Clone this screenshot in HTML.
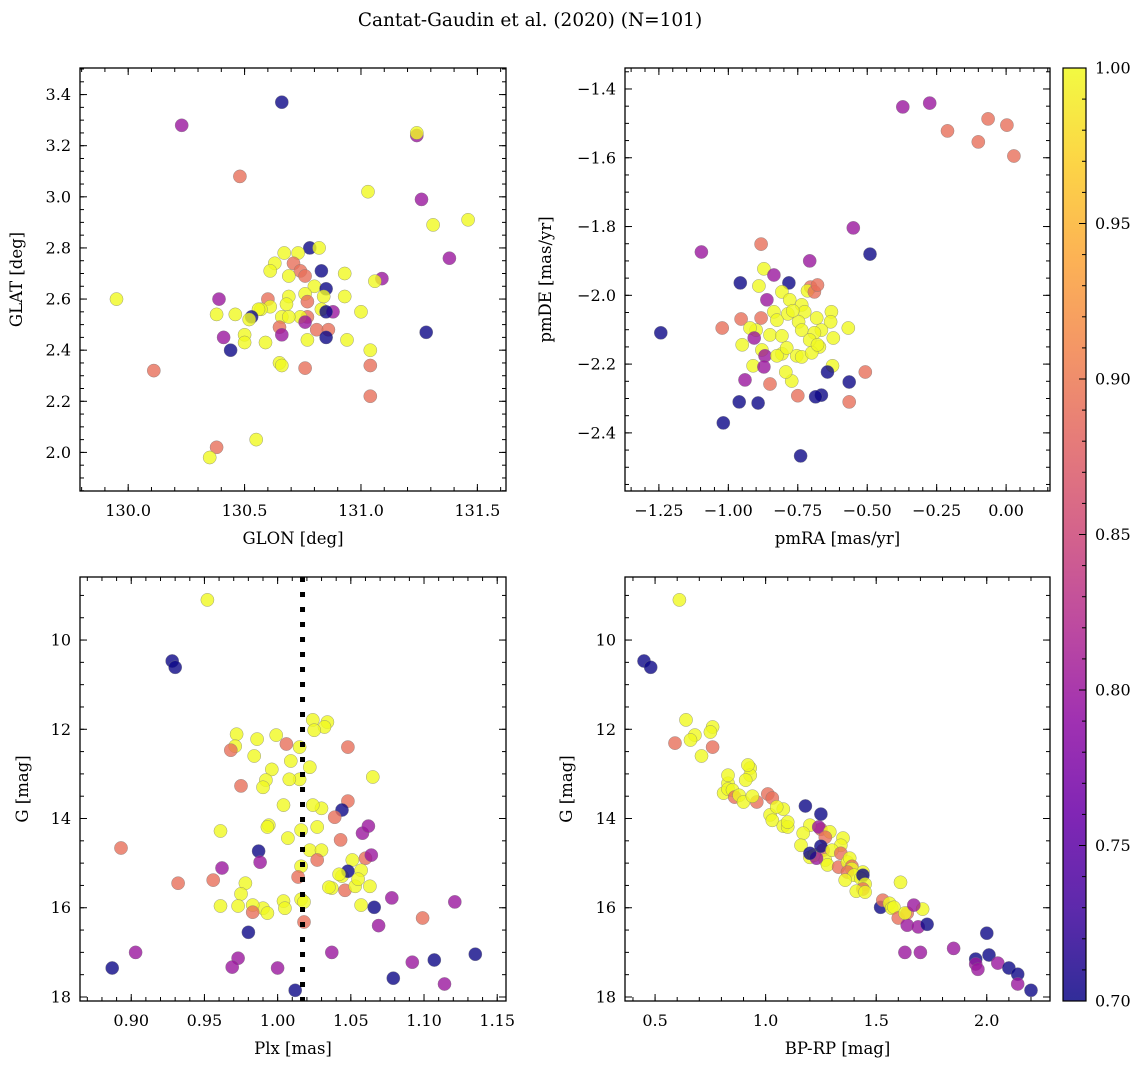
<!DOCTYPE html>
<html><head><meta charset="utf-8"><style>
body{margin:0;background:#fff;}
svg{display:block;font-family:"DejaVu Serif","Liberation Serif",serif;}
</style></head><body>
<svg id="fig" width="1148" height="1068" viewBox="0 0 1148 1068" xmlns="http://www.w3.org/2000/svg">
<defs>
<linearGradient id="cbgrad" x1="0" y1="1" x2="0" y2="0">
<stop offset="0" stop-color="#0d0887"/><stop offset="0.1" stop-color="#41049d"/><stop offset="0.2" stop-color="#6a00a8"/><stop offset="0.3" stop-color="#8f0da4"/><stop offset="0.4" stop-color="#b12a90"/><stop offset="0.5" stop-color="#cc4778"/><stop offset="0.6" stop-color="#e16462"/><stop offset="0.7" stop-color="#f2844b"/><stop offset="0.8" stop-color="#fca636"/><stop offset="0.9" stop-color="#fcce25"/><stop offset="1" stop-color="#f0f921"/>
</linearGradient>
</defs>
<text x="530" y="26" font-size="18.5" text-anchor="middle">Cantat-Gaudin et al. (2020) (N=101)</text>
</svg>
<script>
// ---- Panel 1: GLON / GLAT ----
const glon = [130.66,130.23,131.24,131.24,130.48,131.03,131.26,131.31,131.46,130.78,130.82,130.67,130.73,130.83,130.93,131.09,130.63,130.71,130.61,130.74,131.38,131.06,129.95,130.39,130.60,130.61,130.69,130.76,130.80,130.85,130.84,130.93,130.69,130.76,130.68,130.57,130.46,130.38,130.56,130.53,130.52,130.77,130.83,130.88,130.85,131.00,130.77,130.66,130.74,130.69,130.76,130.41,130.50,130.65,130.66,130.81,130.86,130.85,130.59,130.50,130.44,130.94,130.77,131.28,130.65,130.66,130.76,131.04,130.11,131.04,131.04,130.38,130.55,130.35];
const glat = [3.37,3.28,3.24,3.25,3.08,3.02,2.99,2.89,2.91,2.80,2.80,2.78,2.78,2.71,2.70,2.68,2.74,2.74,2.71,2.71,2.76,2.67,2.60,2.60,2.60,2.57,2.69,2.69,2.65,2.64,2.61,2.61,2.61,2.62,2.58,2.56,2.54,2.54,2.56,2.53,2.52,2.59,2.56,2.55,2.55,2.55,2.53,2.53,2.53,2.53,2.51,2.45,2.46,2.49,2.46,2.48,2.48,2.45,2.43,2.43,2.40,2.44,2.44,2.47,2.35,2.34,2.33,2.40,2.32,2.34,2.22,2.02,2.05,1.98];
const prob1 = [0.70,0.80,0.80,1.0,0.89,1.0,0.80,1.0,1.0,0.70,1.0,1.0,1.0,0.70,1.0,0.80,1.0,0.89,1.0,0.89,0.80,1.0,1.0,0.80,0.89,1.0,1.0,0.89,1.0,0.70,1.0,1.0,1.0,1.0,1.0,1.0,1.0,1.0,1.0,0.70,1.0,0.89,1.0,0.80,0.70,1.0,0.89,1.0,1.0,1.0,0.80,0.80,1.0,0.89,0.80,0.89,0.89,0.70,1.0,1.0,0.70,1.0,1.0,0.70,1.0,1.0,0.89,1.0,0.89,0.89,0.89,0.89,1.0,1.0];
// ---- Panel 2: pmRA / pmDE ----
const pmra = [-0.372,-0.275,-0.211,-0.065,0.003,-0.100,0.028,-0.550,-0.490,-1.097,-0.707,-0.957,-0.872,-0.882,-0.782,-0.704,-0.836,-0.715,-0.690,-0.679,-0.890,-0.807,-0.779,-0.736,-0.629,-0.725,-0.682,-0.632,-0.568,-0.786,-0.836,-0.882,-0.861,-0.747,-0.665,-0.954,-0.768,-0.825,-0.850,-0.900,-0.807,-0.736,-0.690,-0.672,-0.707,-0.622,-1.022,-0.922,-0.950,-0.879,-0.807,-0.754,-0.907,-0.868,-0.825,-0.790,-0.736,-0.700,-0.679,-0.625,-0.643,-0.911,-0.940,-0.872,-0.850,-0.772,-0.793,-0.665,-0.565,-0.507,-0.961,-0.893,-0.750,-0.686,-0.565,-1.018,-0.740,-1.243];
const pmde = [-1.452,-1.441,-1.522,-1.487,-1.505,-1.554,-1.595,-1.804,-1.880,-1.874,-1.900,-1.964,-1.923,-1.851,-1.964,-1.976,-1.941,-1.987,-1.990,-1.970,-1.973,-1.990,-2.013,-2.028,-2.048,-2.048,-2.066,-2.077,-2.095,-2.054,-2.048,-2.066,-2.013,-2.077,-2.101,-2.069,-2.045,-2.072,-2.115,-2.101,-2.118,-2.101,-2.109,-2.150,-2.130,-2.124,-2.095,-2.095,-2.144,-2.159,-2.170,-2.176,-2.124,-2.176,-2.176,-2.153,-2.179,-2.167,-2.144,-2.205,-2.223,-2.205,-2.246,-2.208,-2.258,-2.249,-2.223,-2.290,-2.252,-2.223,-2.310,-2.313,-2.292,-2.295,-2.310,-2.371,-2.467,-2.109];
const prob2 = [0.80,0.80,0.89,0.89,0.89,0.89,0.89,0.80,0.70,0.80,0.80,0.70,1.0,0.89,0.70,0.89,0.80,1.0,0.89,0.89,1.0,1.0,1.0,1.0,1.0,1.0,1.0,1.0,1.0,1.0,1.0,0.89,0.80,1.0,1.0,0.89,1.0,1.0,1.0,1.0,1.0,1.0,1.0,1.0,1.0,1.0,0.89,1.0,1.0,1.0,1.0,1.0,0.80,0.80,1.0,1.0,1.0,1.0,1.0,1.0,0.70,1.0,0.80,0.80,0.89,1.0,1.0,0.70,0.70,0.89,0.70,0.70,0.89,0.70,0.89,0.70,0.70,0.70];
// ---- Panel 3: Plx / G ----
const plx = [0.952,0.928,0.930,0.893,0.932,0.887,0.903,1.024,1.034,1.032,1.025,0.972,0.986,0.999,1.006,1.009,0.984,0.971,1.015,1.022,1.015,1.008,0.996,0.992,0.990,0.968,1.048,1.065,1.004,1.030,1.048,1.024,1.044,1.039,1.027,1.016,1.007,0.994,0.975,0.961,0.993,1.022,1.030,1.043,1.027,1.016,1.014,1.044,1.051,1.060,1.064,1.058,1.062,1.048,1.046,1.053,1.057,1.042,1.037,1.055,1.063,1.035,0.987,0.962,0.988,0.978,0.975,0.956,1.016,1.004,1.057,0.990,0.983,0.961,0.973,0.983,0.980,0.993,1.005,1.018,1.018,1.066,1.069,1.078,1.037,0.973,0.969,1.000,1.012,1.079,1.092,1.099,1.107,1.114,1.121,1.135];
const gmag3 = [9.10,10.47,10.61,14.66,15.45,17.35,17.00,11.79,11.84,11.95,12.02,12.11,12.22,12.13,12.33,12.71,12.60,12.38,12.40,12.85,13.12,13.12,12.90,13.14,13.30,12.47,12.40,13.07,13.70,13.77,13.61,13.70,13.81,13.97,14.19,14.26,14.44,14.15,13.27,14.28,14.19,14.71,14.71,14.48,14.93,15.07,15.31,15.29,14.93,14.89,14.82,14.33,14.17,15.18,15.61,15.52,15.16,15.25,15.56,15.36,15.52,15.54,14.73,15.11,14.98,15.45,15.69,15.38,15.81,15.85,15.94,16.01,15.94,15.96,15.96,16.10,16.55,16.12,16.01,16.32,15.87,15.99,16.40,15.78,17.00,17.13,17.33,17.35,17.85,17.58,17.22,16.23,17.17,17.71,15.87,17.04];
const prob3 = [1.0,0.70,0.70,0.89,0.89,0.70,0.80,1.0,1.0,1.0,1.0,1.0,1.0,1.0,0.89,1.0,1.0,1.0,1.0,1.0,1.0,1.0,1.0,1.0,1.0,0.89,0.89,1.0,1.0,1.0,0.89,1.0,0.70,0.89,1.0,1.0,1.0,1.0,0.89,1.0,1.0,1.0,1.0,0.89,0.89,1.0,0.89,1.0,1.0,0.89,0.80,0.80,0.80,0.70,0.89,1.0,1.0,1.0,1.0,1.0,1.0,1.0,0.70,0.80,0.80,1.0,1.0,0.89,1.0,1.0,1.0,1.0,1.0,1.0,1.0,0.89,0.70,1.0,1.0,0.89,1.0,0.70,0.80,0.80,0.80,0.80,0.80,0.80,0.70,0.70,0.80,0.89,0.70,0.80,0.80,0.70];
const plxRef = [1.017];
// ---- Panel 4: BP-RP / G ----
const bprp = [0.61,0.45,0.48,0.64,0.68,0.66,0.71,0.76,0.75,0.59,0.76,0.83,0.81,0.83,0.83,0.85,0.93,0.93,0.92,0.91,0.86,0.96,0.88,0.90,0.94,1.01,1.03,1.02,1.03,1.08,1.05,1.08,1.10,1.10,1.18,1.25,1.25,1.20,1.24,1.17,1.16,1.20,1.29,1.35,1.34,1.27,1.26,1.22,1.27,1.28,1.23,1.20,1.25,1.30,1.34,1.33,1.37,1.38,1.39,1.39,1.37,1.44,1.40,1.43,1.36,1.44,1.45,1.44,1.41,1.45,1.52,1.53,1.56,1.57,1.58,1.61,1.71,1.60,1.64,1.64,1.69,1.73,1.63,1.70,1.85,2.00,1.95,1.95,1.96,2.01,2.05,2.10,2.14,2.14,2.20,1.63,1.67];
const gmag4 = [9.10,10.47,10.61,11.79,12.13,12.24,12.60,11.95,12.06,12.31,12.40,13.21,13.43,13.34,13.03,13.36,12.87,13.03,12.80,13.14,13.52,13.63,13.48,13.63,13.50,13.45,13.54,13.92,14.04,13.79,13.74,14.17,14.19,14.08,13.72,13.90,14.24,14.15,14.19,14.33,14.60,14.87,14.30,14.44,14.60,14.42,14.71,14.82,14.93,15.04,14.89,14.78,14.62,14.71,14.78,15.09,14.98,14.89,15.07,15.13,15.20,15.20,15.27,15.34,15.38,15.27,15.47,15.58,15.63,15.65,15.99,15.83,15.90,16.01,15.99,15.43,16.03,16.23,16.12,16.39,16.43,16.37,17.00,17.00,16.91,16.57,17.15,17.26,17.38,17.06,17.24,17.35,17.49,17.71,17.85,16.12,15.94];
const prob4 = [1.0,0.70,0.70,1.0,1.0,1.0,1.0,1.0,1.0,0.89,0.89,1.0,1.0,1.0,1.0,1.0,1.0,1.0,1.0,1.0,0.89,0.89,1.0,1.0,1.0,0.89,0.89,1.0,1.0,1.0,1.0,1.0,1.0,1.0,0.70,0.70,0.89,1.0,0.80,1.0,1.0,1.0,1.0,1.0,1.0,0.89,0.89,1.0,1.0,1.0,0.80,0.70,0.70,1.0,0.89,0.89,1.0,1.0,0.89,1.0,0.89,1.0,1.0,1.0,1.0,0.70,1.0,0.89,1.0,1.0,0.70,0.89,1.0,1.0,1.0,1.0,1.0,0.89,0.89,0.80,0.80,0.70,0.80,0.80,0.80,0.70,0.70,0.80,0.80,0.70,0.80,0.70,0.70,0.80,0.70,1.0,0.80];
// tick labels
const p1xTicks = [130.0,130.5,131.0,131.5];
const p1yTicks = [2.0,2.2,2.4,2.6,2.8,3.0,3.2,3.4];
const p2xTicks = [-1.25,-1.00,-0.75,-0.50,-0.25,0.00];
const p2yTicks = [-2.4,-2.2,-2.0,-1.8,-1.6,-1.4];
const p3xTicks = [0.90,0.95,1.00,1.05,1.10,1.15];
const gTicks = [10,12,14,16,18];
const p4xTicks = [0.5,1.0,1.5,2.0];
const cbTicks = [0.70,0.75,0.80,0.85,0.90,0.95,1.00];

const NS='http://www.w3.org/2000/svg';
const svg=document.getElementById('fig');
function mk(tag,attrs,parent){const e=document.createElementNS(NS,tag);for(const k in attrs)e.setAttribute(k,attrs[k]);(parent||svg).appendChild(e);return e;}
const stops=[[13,8,135],[65,4,157],[106,0,168],[143,13,164],[177,42,144],[204,71,120],[225,100,98],[242,132,75],[252,166,54],[252,206,37],[240,249,33]];
function plasma(p){let t=Math.max(0,Math.min(1,(p-0.7)/0.3))*10;const i=Math.min(9,Math.floor(t)),f=t-i;const a=stops[i],b=stops[i+1];return 'rgb('+[0,1,2].map(k=>Math.round(a[k]+(b[k]-a[k])*f)).join(',')+')';}
function lin(d0,d1,r0,r1){return v=>r0+(v-d0)/(d1-d0)*(r1-r0);}
function fmt(v,dec){return (v<0?'\u2212':'')+Math.abs(v).toFixed(dec);}

function panel(o){
  const g=mk('g',{});
  
  
  const sx=lin(o.xd[0],o.xd[1],o.x0,o.x1);
  const sy=lin(o.yd[0],o.yd[1],o.y1,o.y0);
  const pg=mk('g',{},g);
  
  
  for(let i=0;i<o.xs.length;i++){
    const c=mk('circle',{cx:sx(o.xs[i]).toFixed(1),cy:sy(o.ys[i]).toFixed(1),r:6.6,fill:plasma(o.ps[i]),'fill-opacity':0.8,stroke:'#777','stroke-width':0.5,'stroke-opacity':0.7},pg);
    
    
  }
  if(o.extra)o.extra(g,sx,sy);
  const fr=mk('rect',{x:o.x0,y:o.y0,width:o.x1-o.x0,height:o.y1-o.y0,fill:'none',stroke:'#000','stroke-width':1.3},g);
  
  
  const tg=mk('g',{stroke:'#000','stroke-width':1},g);
  
  
  function xt(v,len){const x=sx(v);if(x<o.x0-0.5||x>o.x1+0.5)return;mk('line',{x1:x,x2:x,y1:o.y1,y2:o.y1-len},tg);mk('line',{x1:x,x2:x,y1:o.y0,y2:o.y0+len},tg);}
  function yt(v,len){const y=sy(v);if(y<o.y0-0.5||y>o.y1+0.5)return;mk('line',{y1:y,y2:y,x1:o.x0,x2:o.x0+len},tg);mk('line',{y1:y,y2:y,x1:o.x1,x2:o.x1-len},tg);}
  const mnx=Math.min(o.xd[0],o.xd[1]),mxx=Math.max(o.xd[0],o.xd[1]);
  for(let k=Math.ceil(mnx/o.xmin-1e-6);k*o.xmin<=mxx+1e-9;k++)xt(k*o.xmin,4);
  const mny=Math.min(o.yd[0],o.yd[1]),mxy=Math.max(o.yd[0],o.yd[1]);
  for(let k=Math.ceil(mny/o.ymin-1e-6);k*o.ymin<=mxy+1e-9;k++)yt(k*o.ymin,4);
  o.xt.forEach(v=>xt(v,7));o.yt.forEach(v=>yt(v,7));
  o.xt.forEach(v=>{const t=mk('text',{x:sx(v),y:o.y1+25,'font-size':16,'text-anchor':'middle'},g);t.textContent=fmt(v,o.xdec);});
  o.yt.forEach(v=>{const t=mk('text',{x:o.x0-9,y:sy(v)+5.5,'font-size':16,'text-anchor':'end'},g);t.textContent=fmt(v,o.ydec);});
  const xl=mk('text',{x:(o.x0+o.x1)/2,y:o.y1+53,'font-size':16.5,'text-anchor':'middle'},g);xl.textContent=o.xlab;
  
  const yc=(o.y0+o.y1)/2;
  const yl=mk('text',{x:o.ylx,y:yc,'font-size':16.5,'text-anchor':'middle',transform:'rotate(-90 '+o.ylx+' '+yc+')'},g);yl.textContent=o.ylab;
  
}

panel({name:'glon-glat-panel',x0:80,x1:506,y0:68,y1:491,xd:[129.793,131.623],yd:[1.849,3.504],xs:glon,ys:glat,ps:prob1,xt:p1xTicks,yt:p1yTicks,xmin:0.1,ymin:0.05,xdec:1,ydec:1,xlab:'GLON [deg]',ylab:'GLAT [deg]',ylx:22});
panel({name:'proper-motion-panel',x0:625,x1:1050,y0:68,y1:491,xd:[-1.372,0.158],yd:[-2.569,-1.339],xs:pmra,ys:pmde,ps:prob2,xt:p2xTicks,yt:p2yTicks,xmin:0.05,ymin:0.05,xdec:2,ydec:1,xlab:'pmRA [mas/yr]',ylab:'pmDE [mas/yr]',ylx:551});
panel({name:'parallax-mag-panel',x0:80,x1:506,y0:577,y1:1001,xd:[0.865,1.156],yd:[18.09,8.587],xs:plx,ys:gmag3,ps:prob3,xt:p3xTicks,yt:gTicks,xmin:0.01,ymin:0.5,xdec:2,ydec:0,xlab:'Plx [mas]',ylab:'G [mag]',ylx:28,
 extra:(g,sx,sy)=>{plxRef.forEach(v=>{const l=mk('line',{x1:sx(v),x2:sx(v),y1:577,y2:1001,stroke:'#000','stroke-width':5,'stroke-dasharray':'5 10'},g);});}});
panel({name:'cmd-panel',x0:625,x1:1050,y0:577,y1:1001,xd:[0.364,2.286],yd:[18.09,8.587],xs:bprp,ys:gmag4,ps:prob4,xt:p4xTicks,yt:gTicks,xmin:0.1,ymin:0.5,xdec:1,ydec:0,xlab:'BP-RP [mag]',ylab:'G [mag]',ylx:572});

const cb=mk('g',{});


const cx0=1063,cx1=1086,cy0=68,cy1=1001;
mk('rect',{x:cx0,y:cy0,width:cx1-cx0,height:cy1-cy0,fill:'url(#cbgrad)','fill-opacity':0.85,stroke:'#000','stroke-width':1.2},cb);
const sc=lin(0.7,1.0,cy1,cy0);
for(let k=70;k<=100;k++){const y=sc(k/100);const len=(k%5===0)?7:4;mk('line',{x1:cx1,x2:cx1-len,y1:y,y2:y,stroke:'#000','stroke-width':1},cb);}
cbTicks.forEach(v=>{const t=mk('text',{x:cx1+9,y:sc(v)+5.5,'font-size':16},cb);t.textContent=v.toFixed(2);});
</script>
</body></html>
